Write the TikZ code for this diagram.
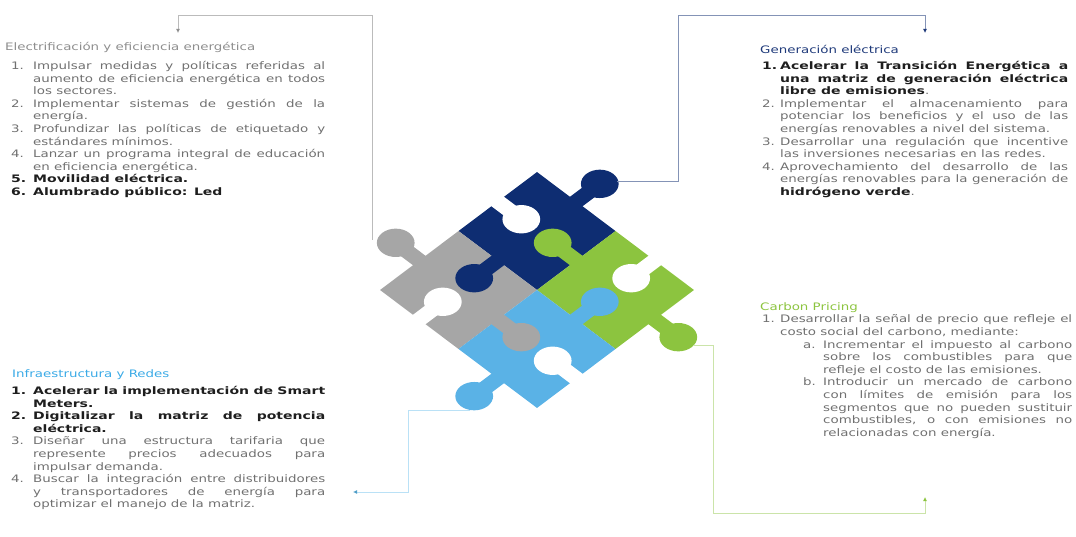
\documentclass[tikz,border=0pt]{standalone}
\usepackage{fontspec}
\setmainfont[FakeStretch=1.3, BoldFeatures={FakeStretch=1.36}]{DejaVu Sans}
\usetikzlibrary{arrows.meta,positioning}

\definecolor{pzgray}{HTML}{A6A6A6}
\definecolor{pznavy}{HTML}{0E2D72}
\definecolor{pzgreen}{HTML}{8CC43F}
\definecolor{pzblue}{HTML}{5AB2E6}
\definecolor{txtgray}{HTML}{707070}
\definecolor{txtdark}{HTML}{1E1E1E}
\definecolor{ttlgray}{HTML}{8E8E8E}
\definecolor{ttlnavy}{HTML}{1F3A7A}
\definecolor{ttlblue}{HTML}{3AAAE6}
\definecolor{ttlgreen}{HTML}{8CC43F}

\hyphenpenalty=10000
\exhyphenpenalty=10000
\tolerance=9000
\emergencystretch=20pt

% Listenpunkte mit hängendem Einzug
\newlength{\lblw}
\setlength{\lblw}{22pt}
\newcommand{\itm}[2]{\par\noindent\hangindent=\lblw\hangafter=1\strut\makebox[\lblw][l]{#1}#2}
\newcommand{\subitm}[2]{\par\leftskip=41pt\noindent\hangindent=20pt\hangafter=1\strut\makebox[20pt][l]{#1}#2}
\newcommand{\fett}[1]{{\bfseries\color{txtdark}#1}}

% Nase (oder Loch in weiß) an einer Kante: Farbe, Kantenmitte x, y, Richtung
\newcommand{\knob}[4]{%
  \fill[#1] (#2,#3) ++({#4+180}:0.02) ++({#4+90}:0.08) -- ++(#4:0.26) -- ++({#4-90}:0.16) -- ++({#4+180}:0.26) -- cycle;
  \fill[#1] (#2,#3) ++(#4:0.3) circle (0.17);}

\begin{document}
\begin{tikzpicture}[
		x=1pt, y=-1pt,
		>=Latex,
		font=\fontsize{10.3}{12.6}\selectfont,
		ttl/.style={anchor=base west, inner sep=0},
		lst/.style={anchor=north west, inner sep=0, align=justify, text=txtgray},
		conn/.style={line width=1pt}
		]
		\useasboundingbox (0,0) rectangle (1076,537);
		
		% ---- Puzzle in der Mitte (gedreht und breit gezogen)
		\begin{scope}[shift={(537,290)}, xscale=111, yscale=83.4, rotate=45, y=1pt]
			\fill[pznavy]  (0,0)   rectangle (1,1);
			\fill[pzgray]  (-1,0)  rectangle (0,1);
			\fill[pzgreen] (0,-1)  rectangle (1,0);
			\fill[pzblue]  (-1,-1) rectangle (0,0);
			\knob{pznavy}{1}{0.5}{0}
			\knob{white}{0.5}{1}{270}
			\knob{pznavy}{0}{0.5}{180}
			\knob{pzgray}{-0.5}{1}{90}
			\knob{white}{-1}{0.5}{0}
			\knob{pzgray}{-0.5}{0}{270}
			\knob{pzgreen}{0.5}{0}{90}
			\knob{white}{1}{-0.5}{180}
			\knob{pzgreen}{0.5}{-1}{270}
			\knob{pzblue}{-1}{-0.5}{180}
			\knob{white}{-0.5}{-1}{90}
			\knob{pzblue}{0}{-0.5}{0}
		\end{scope}
		
		% ---- Überschriften
		\node[ttl, text=ttlgray]  (elecT)  at (5,51)      {Electrificación y eficiencia energética};
		\node[ttl, text=ttlnavy]  (genT)   at (760,53.5)  {Generación eléctrica};
		\node[ttl, text=ttlblue]  (infraT) at (12,377.5)  {Infraestructura y Redes};
		\node[ttl, text=ttlgreen] (carbT)  at (760,310)   {Carbon Pricing};
		
		% ---- Listen unter den Überschriften
		\node[lst, text width=314pt, below=5.7pt of elecT.base west, xshift=6pt, anchor=north west] (elec) {%
			\itm{1.}{Impulsar medidas y políticas referidas al aumento de eficiencia energética en todos los sectores.}
			\itm{2.}{Implementar sistemas de gestión de la energía.}
			\itm{3.}{Profundizar las políticas de etiquetado y estándares mínimos.}
			\itm{4.}{Lanzar un programa integral de educación en eficiencia energética.}
			\itm{\fett{5.}}{\fett{Movilidad eléctrica.}}
			\itm{\fett{6.}}{\fett{Alumbrado público: Led}}\par};
		\node[lst, text width=306pt, below=3.2pt of genT.base west, xshift=2pt, anchor=north west] (gen) {%
			\setlength{\lblw}{18pt}%
			\itm{\fett{1.}}{\fett{Acelerar la Transición Energética a una matriz de generación eléctrica libre de emisiones}.}
			\itm{2.}{Implementar el almacenamiento para potenciar los beneficios y el uso de las energías renovables a nivel del sistema.}
			\itm{3.}{Desarrollar una regulación que incentive las inversiones necesarias en las redes.}
			\itm{4.}{Aprovechamiento del desarrollo de las energías renovables para la generación de \fett{hidrógeno verde}.}\par};
		\node[lst, text width=314pt, below=4.2pt of infraT.base west, xshift=-1pt, anchor=north west] (infra) {%
			\itm{\fett{1.}}{\fett{Acelerar la implementación de Smart Meters.}}
			\itm{\fett{2.}}{\fett{Digitalizar la matriz de potencia eléctrica.}}
			\itm{3.}{Diseñar una estructura tarifaria que represente precios adecuados para impulsar demanda.}
			\itm{4.}{Buscar la integración entre distribuidores y~transportadores de energía para\linebreak optimizar el manejo de la matriz.}\par};
		\node[lst, text width=310pt, below=0pt of carbT.base west, xshift=2pt, anchor=north west] (carb) {%
			\setlength{\lblw}{18pt}%
			\itm{1.}{Desarrollar la señal de precio que refleje el costo social del carbono, mediante:}
			\subitm{a.}{Incrementar el impuesto al carbono sobre los combustibles para que refleje el costo de las emisiones.}
			\subitm{b.}{Introducir un mercado de carbono con límites de emisión para los segmentos que no pueden sustituir combustibles, o con emisiones no relacionadas con energía.}\par};
		
		% ---- Anschlusspunkte am Puzzle und an den Texten
		\coordinate (pzGray)   at (372,240);
		\coordinate (pzNavy)   at (617,182);
		\coordinate (pzGreen)  at (693,345);
		\coordinate (pzBlue)   at (470,410);
		\coordinate (elecIn)   at (178,33);
		\coordinate (genIn)    at (925,33);
		\coordinate (carbIn)   at (925,497);
		\coordinate (infraIn)  at (353,492);
		
		% ---- Verbinder (eckig, kleine Spitzen)
		\draw[conn, ttlgray!60, -{Latex[length=4pt,width=4pt,color=ttlgray]}]
			(pzGray) -- ++(0,-224) -| (elecIn);
		\draw[conn, ttlnavy!55, -{Latex[length=4pt,width=4pt,color=ttlnavy]}]
			(pzNavy) -- ++(61,0) -- ++(0,-166) -| (genIn);
		\draw[conn, ttlgreen!45, -{Latex[length=4pt,width=4pt,color=ttlgreen]}]
			(pzGreen) -- ++(20,0) -- ++(0,168) -| (carbIn);
		\draw[conn, ttlblue!35, -{Latex[length=4pt,width=4pt,color=ttlblue!70!gray]}]
			(pzBlue) -- ++(-62,0) |- (infraIn);
	\end{tikzpicture}
\end{document}
